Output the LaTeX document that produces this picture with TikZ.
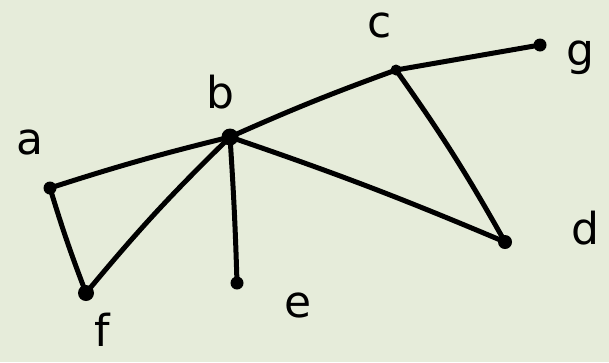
\documentclass[tikz,border=0pt]{standalone}
\usepackage{fontspec}
\setmainfont{DejaVu Sans}
\definecolor{bg}{HTML}{E6ECDA}
\begin{document}
\begin{tikzpicture}[x=1pt,y=-1pt,
  vert/.style={circle,fill=black,inner sep=0pt,minimum size=13pt},
  edge/.style={line width=5pt,line cap=round,line join=round},
  lbl/.style={font=\fontsize{44}{44}\selectfont,inner sep=0pt}]
\fill[bg] (0,0) rectangle (609,362);
\useasboundingbox (0,0) rectangle (609,362);
\node[vert] (a) at (50,188) {};
\node[vert,minimum size=17pt] (b) at (230,137) {};
\node[vert,minimum size=11pt] (c) at (396,70) {};
\node[vert] (g) at (540,45) {};
\node[vert,minimum size=14pt] (d) at (505,242) {};
\node[vert] (e) at (237,283) {};
\node[vert,minimum size=16pt] (f) at (86,293) {};
\node[lbl] (la) at (30,142) {a};
\node[lbl] (lb) at (220,92) {b};
\node[lbl] (lc) at (380,25) {c};
\node[lbl] (lg) at (580,58) {g};
\node[lbl] (ld) at (585,228) {d};
\node[lbl] (le) at (298,305) {e};
\node[lbl] (lf) at (102,330) {f};
\draw[edge] (a.center) to[bend left=2] (b.center);
\draw[edge] (a.center) to[bend right=2] (f.center);
\draw[edge] (f.center) to[bend left=3] (b.center);
\draw[edge] (b.center) to[bend left=2] (c.center);
\draw[edge] (c.center) -- (g.center);
\draw[edge] (c.center) to[bend left=3] (d.center);
\draw[edge] (b.center) to[bend left=2] (d.center);
\draw[edge] (b.center) to[bend left=1] (e.center);
\end{tikzpicture}
\end{document}
